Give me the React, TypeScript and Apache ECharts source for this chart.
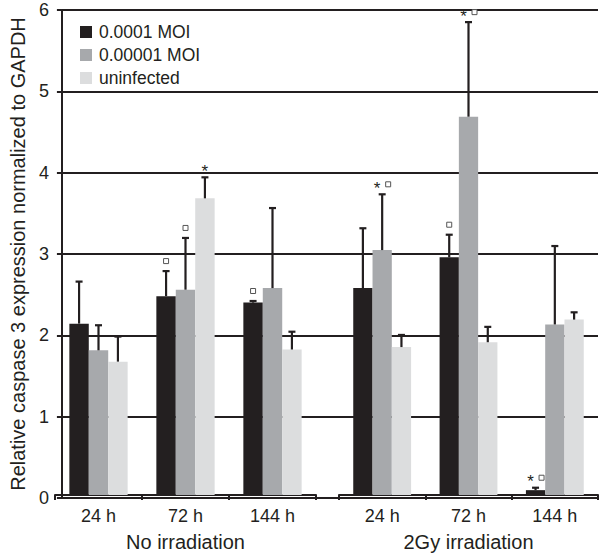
import { useEffect, useRef } from "react";
import * as echarts from "echarts";

const timeLabels = ["24 h", "72 h", "144 h"];
const groupLabels = ["No irradiation", "2Gy irradiation"];
const seriesNames = ["0.0001 MOI", "0.00001 MOI", "uninfected"];
const seriesColors = ["#231f20", "#a7a9ac", "#dcddde"];
const yTicks = [0, 1, 2, 3, 4, 5, 6];

// No irradiation (24 h, 72 h, 144 h)
const noIrrMOI4 = [2.12, 2.46, 2.38];
const noIrrMOI5 = [1.79, 2.54, 2.56];
const noIrrUninf = [1.65, 3.67, 1.8];
const noIrrMOI4Err = [0.52, 0.31, 0.02];
const noIrrMOI5Err = [0.31, 0.64, 0.99];
const noIrrUninfErr = [0.31, 0.26, 0.22];
// significance marks: "" none, "sq" square, "st" star, "stsq" star+square
const noIrrMOI4Mark = ["", "sq", "sq"];
const noIrrMOI5Mark = ["", "sq", ""];
const noIrrUninfMark = ["", "st", ""];

// 2Gy irradiation (24 h, 72 h, 144 h)
const gyMOI4 = [2.56, 2.94, 0.06];
const gyMOI5 = [3.03, 4.68, 2.11];
const gyUninf = [1.83, 1.89, 2.17];
const gyMOI4Err = [0.74, 0.28, 0.03];
const gyMOI5Err = [0.69, 1.17, 0.97];
const gyUninfErr = [0.15, 0.19, 0.09];
const gyMOI4Mark = ["", "sq", "stsq"];
const gyMOI5Mark = ["stsq", "stsq", ""];
const gyUninfMark = ["", "", ""];

const FONT = "'Liberation Sans', Arial, sans-serif";
const INK = "#231f20";
const CAT_GAP = 0.33;

function buildErr(vals: number[][], errs: number[][], marks: string[][]) {
  const items: any[] = [];
  const markList: string[] = [];
  for (let s = 0; s < vals.length; s++) {
    for (let c = 0; c < vals[s].length; c++) {
      items.push([c, s, vals[s][c], vals[s][c] + errs[s][c]]);
      markList.push(marks[s][c]);
    }
  }
  return { items, markList };
}

function makeRender(markList: string[]) {
  return (params: any, api: any) => {
    const cat = api.value(0);
    const s = api.value(1);
    const v = api.value(2);
    const top = api.value(3);
    const base = api.coord([cat, v]);
    const tp = api.coord([cat, top]);
    const band = api.size([1, 0])[0];
    const bw = (band * (1 - CAT_GAP)) / 3;
    const x = base[0] + (s - 1) * bw;
    const children: any[] = [
      {
        type: "line",
        shape: { x1: x, y1: base[1], x2: x, y2: tp[1] },
        style: { stroke: INK, lineWidth: 2.2 },
      },
      {
        type: "line",
        shape: { x1: x - 3.5, y1: tp[1], x2: x + 3.5, y2: tp[1] },
        style: { stroke: INK, lineWidth: 2.2 },
      },
    ];
    const m = markList[params.dataIndex];
    const my = tp[1] - 10;
    const star = (mx: number) => ({
      type: "text",
      x: mx,
      y: my + 4,
      style: {
        text: "*",
        fill: INK,
        font: "17px " + FONT,
        align: "center",
        verticalAlign: "middle",
      },
    });
    const sq = (mx: number) => ({
      type: "rect",
      shape: { x: mx - 2.5, y: my - 2.5, width: 5, height: 5 },
      style: { fill: "#fff", stroke: "#555", lineWidth: 1 },
    });
    if (m === "sq") children.push(sq(x));
    if (m === "st") children.push(star(x));
    if (m === "stsq") {
      children.push(star(x - 5));
      children.push(sq(x + 6));
    }
    return { type: "group", children };
  };
}

export default function App() {
  const ref = useRef<HTMLDivElement>(null);
  useEffect(() => {
    if (!ref.current) return;
    const chart = echarts.init(ref.current, undefined, { renderer: "svg" });
    const a = buildErr(
      [noIrrMOI4, noIrrMOI5, noIrrUninf],
      [noIrrMOI4Err, noIrrMOI5Err, noIrrUninfErr],
      [noIrrMOI4Mark, noIrrMOI5Mark, noIrrUninfMark]
    );
    const b = buildErr(
      [gyMOI4, gyMOI5, gyUninf],
      [gyMOI4Err, gyMOI5Err, gyUninfErr],
      [gyMOI4Mark, gyMOI5Mark, gyUninfMark]
    );
    const groupA = [noIrrMOI4, noIrrMOI5, noIrrUninf];
    const groupB = [gyMOI4, gyMOI5, gyUninf];
    const catAxis = (gi: number, name: string) => ({
      type: "category",
      gridIndex: gi,
      data: timeLabels,
      axisLine: { show: true, lineStyle: { color: INK, width: 2 } },
      axisTick: { show: true, length: 5, lineStyle: { color: INK, width: 2 } },
      axisLabel: { fontSize: 18, color: INK, margin: 12, fontFamily: FONT },
      name,
      nameLocation: "middle",
      nameGap: 37,
      nameTextStyle: { fontSize: 20, color: INK, fontFamily: FONT },
    });
    const hiddenY = (gi: number) => ({
      type: "value",
      gridIndex: gi,
      min: 0,
      max: 6,
      show: false,
    });
    const bars = (group: number[][], xi: number) =>
      group.map((d, i) => ({
        type: "bar",
        name: seriesNames[i],
        xAxisIndex: xi,
        yAxisIndex: xi,
        data: d,
        barGap: "0%",
        barCategoryGap: CAT_GAP * 100 + "%",
        itemStyle: { color: seriesColors[i] },
      }));
    chart.setOption({
      animation: false,
      textStyle: { fontFamily: FONT },
      color: seriesColors,
      legend: {
        data: seriesNames,
        orient: "vertical",
        left: 75,
        top: 18,
        itemWidth: 12,
        itemHeight: 12,
        itemGap: 5,
        icon: "rect",
        textStyle: { fontSize: 17.5, color: INK, fontFamily: FONT, padding: [0, 0, 0, 2] },
      },
      grid: [
        { left: 55, top: 10, width: 543, height: 488 },
        { left: 55, top: 10, width: 261, height: 488 },
        { left: 339, top: 10, width: 259, height: 488 },
      ],
      xAxis: [
        {
          type: "value",
          gridIndex: 0,
          min: 0,
          max: 1,
          axisLine: { show: true, lineStyle: { color: INK, width: 2 } },
          axisTick: { show: false },
          axisLabel: { show: false },
          splitLine: { show: false },
        },
        catAxis(1, groupLabels[0]),
        catAxis(2, groupLabels[1]),
      ],
      yAxis: [
        {
          type: "value",
          gridIndex: 0,
          min: yTicks[0],
          max: yTicks[yTicks.length - 1],
          interval: 1,
          axisLine: { show: true, lineStyle: { color: INK, width: 2 } },
          axisTick: { show: true, length: 5, lineStyle: { color: INK, width: 2 } },
          splitLine: { show: true, lineStyle: { color: INK, width: 2 } },
          axisLabel: { fontSize: 18, color: INK, margin: 13, fontFamily: FONT },
          name: "Relative caspase 3 expression normalized to GAPDH",
          nameLocation: "middle",
          nameGap: 33,
          nameTextStyle: { fontSize: 20, color: INK, fontFamily: FONT },
        },
        hiddenY(1),
        hiddenY(2),
      ],
      series: [
        ...bars(groupA, 1),
        ...bars(groupB, 2),
        {
          type: "custom",
          xAxisIndex: 1,
          yAxisIndex: 1,
          data: a.items,
          clip: false,
          z: 5,
          encode: { x: 0, y: [2, 3] },
          renderItem: makeRender(a.markList),
        },
        {
          type: "custom",
          xAxisIndex: 2,
          yAxisIndex: 2,
          data: b.items,
          clip: false,
          z: 5,
          encode: { x: 0, y: [2, 3] },
          renderItem: makeRender(b.markList),
        },
      ],
    });
    return () => chart.dispose();
  }, []);
  return (
    <div
      ref={ref}
      style={{ position: "absolute", left: 0, top: 0, width: 600, height: 557 }}
    />
  );
}
